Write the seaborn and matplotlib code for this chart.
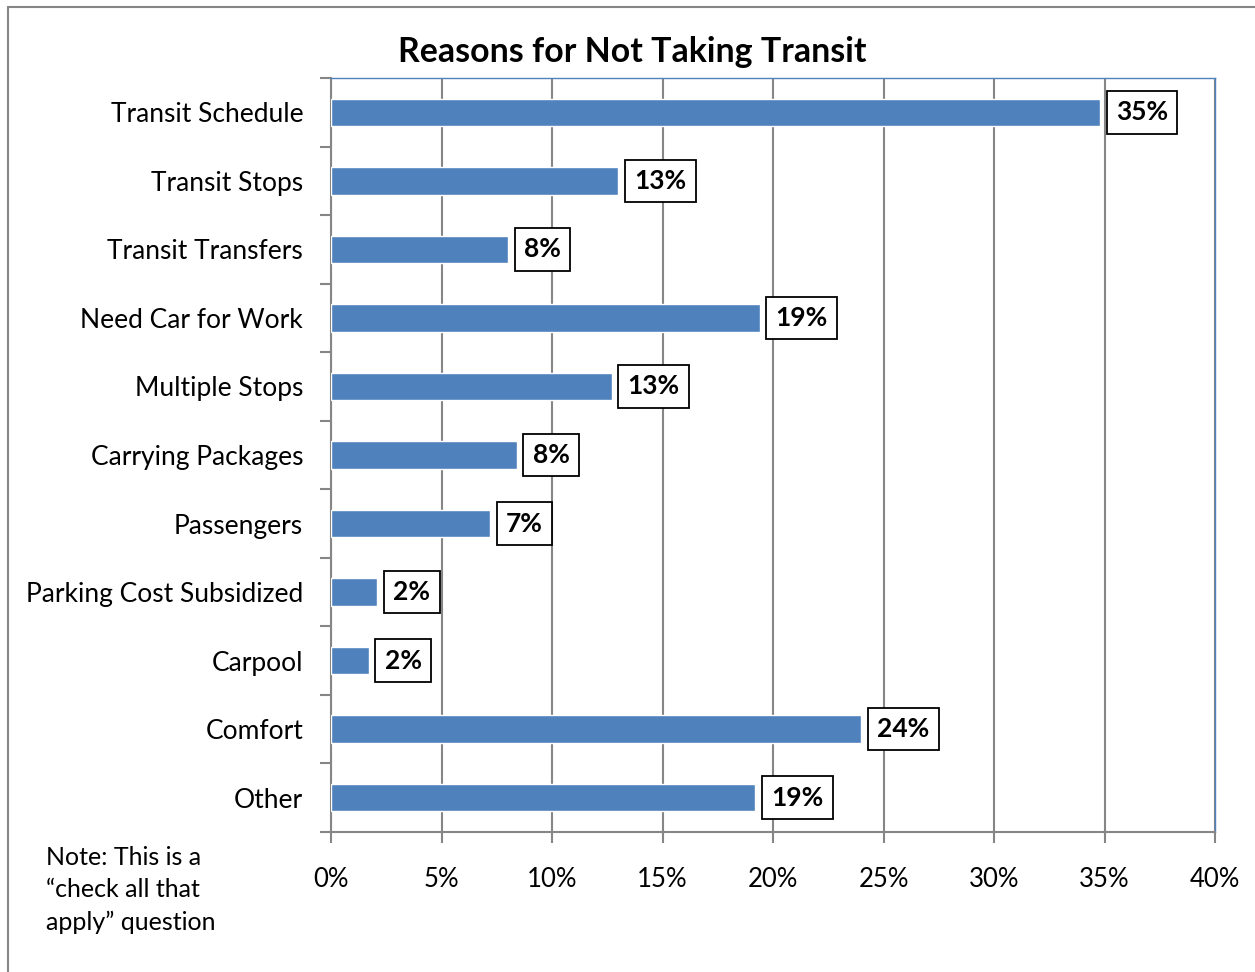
import matplotlib
matplotlib.use("Agg")
import matplotlib.pyplot as plt
from matplotlib.ticker import FuncFormatter, FixedLocator
from matplotlib.lines import Line2D
import seaborn as sns
import pandas as pd
import numpy as np

categories = [
    "Transit Schedule", "Transit Stops", "Transit Transfers", "Need Car for Work",
    "Multiple Stops", "Carrying Packages", "Passengers", "Parking Cost Subsidized",
    "Carpool", "Comfort", "Other",
]
shares = [34.8, 13.0, 8.0, 19.4, 12.7, 8.4, 7.2, 2.1, 1.7, 24.0, 19.2]
x_ticks = [0, 5, 10, 15, 20, 25, 30, 35, 40]

df = pd.DataFrame({"reason": categories, "share": shares})

sns.set_theme(style="white")
plt.rcParams["font.family"] = ["Lato", "DejaVu Sans"]

BLUE = "#4F81BD"
GRID = "#868686"

fig = plt.figure(figsize=(12.55, 9.72), dpi=100)
ax = fig.add_axes([331 / 1255, 1 - 832 / 972, (1215 - 331) / 1255, (832 - 78) / 972])

sns.barplot(data=df, x="share", y="reason", orient="h", color=BLUE,
            saturation=1, width=0.4, ax=ax, zorder=3)

ax.set_xlim(0, 40)
ax.set_ylim(len(categories) - 0.5, -0.5)
ax.xaxis.set_major_locator(FixedLocator(x_ticks))
ax.xaxis.set_major_formatter(FuncFormatter(lambda v, _: f"{v:.0f}%"))
ax.set_xlabel("")
ax.set_ylabel("")

# vertical gridlines
ax.grid(axis="x", color=GRID, linewidth=1.5, zorder=0)
ax.grid(axis="y", visible=False)
ax.set_axisbelow(True)

# spines: gray left/bottom, thin blue top/right
for side in ("left", "bottom"):
    ax.spines[side].set_color(GRID)
    ax.spines[side].set_linewidth(1.5)
for side in ("top", "right"):
    ax.spines[side].set_color(BLUE)
    ax.spines[side].set_linewidth(1.0)

# category separators as outward tick marks on the y axis
ax.yaxis.set_minor_locator(FixedLocator(np.arange(-0.5, len(categories), 1.0)))
ax.tick_params(axis="y", which="major", length=0, pad=20, labelsize=19, labelcolor="black")
ax.tick_params(axis="y", which="minor", left=True, length=8, width=1.5, color=GRID)
ax.tick_params(axis="x", which="major", bottom=True, direction="out", length=8,
               width=1.5, color=GRID, pad=17, labelsize=18.5, labelcolor="black")

# boxed value labels
container = ax.containers[0]
ax.bar_label(container, labels=[f"{v:.0f}%" for v in shares], padding=11.5,
             fontsize=19, fontweight="bold", color="black",
             bbox=dict(boxstyle="square,pad=0.35", fc="white", ec="black", lw=1.3),
             zorder=5)

fig.text(632 / 1255, 1 - 52 / 972, "Reasons for Not Taking Transit", ha="center",
         va="center", fontsize=24.4, fontweight="bold", color="black")

fig.text(46 / 1255, 1 - 846 / 972, "Note: This is a\n\u201ccheck all that\napply\u201d question",
         ha="left", va="top", fontsize=18, color="black", linespacing=1.48)

# outer chart frame
fig.add_artist(Line2D([8 / 1255, 8 / 1255], [0, 1 - 7 / 972], transform=fig.transFigure,
                      color=GRID, linewidth=1.5))
fig.add_artist(Line2D([8 / 1255, 1], [1 - 7 / 972, 1 - 7 / 972], transform=fig.transFigure,
                      color=GRID, linewidth=1.5))

fig.savefig("out.png", dpi=100, facecolor="white")
